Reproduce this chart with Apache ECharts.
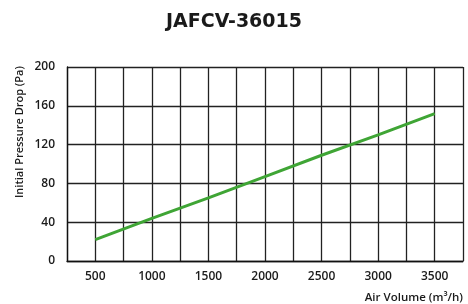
<!DOCTYPE html>
<html lang="en">
<head>
    <meta charset="UTF-8">
    <title>JAFCV-36015</title>
    <script src="https://cdn.jsdelivr.net/npm/echarts@6/dist/echarts.min.js"></script>
    <style>
        html, body { margin: 0; padding: 0; background: #fff; }
    </style>
</head>
<body>
<div id="main" style="width: 468px;height:304px;"></div>
<script>
    // air volume (m3/h) and initial pressure drop (Pa)
    var airVolume = [500, 1000, 1500, 2000, 2500, 3000, 3500];
    var pressureDrop = [22, 44, 65, 87, 109, 130, 152];
    var yTicks = [0, 40, 80, 120, 160, 200];

    var points = airVolume.map(function (v, i) {
        return [v, pressureDrop[i]];
    });

    var font = '"Open Sans", Lato, sans-serif';
    var myChart = echarts.init(document.getElementById('main'));

    var option = {
        animation: false,
        title: {
            text: 'JAFCV-36015',
            left: 'center',
            top: 8,
            textStyle: { fontFamily: '"DejaVu Sans", sans-serif', fontSize: 19, fontWeight: 'bold', color: '#1a1a1a' }
        },
        grid: { left: 67, right: 5, top: 67, bottom: 43, containLabel: false },
        xAxis: {
            type: 'value',
            min: 250,
            max: 3750,
            interval: 250,
            axisLine: { lineStyle: { color: '#111', width: 1.3 } },
            axisTick: { show: false },
            axisLabel: {
                margin: 10,
                color: '#1a1a1a',
                fontFamily: font,
                fontSize: 12,
                fontWeight: 600,
                formatter: function (v) {
                    return (v % 500 === 0) ? String(v) : '';
                }
            },
            splitLine: { show: true, lineStyle: { color: '#222', width: 1.3 } }
        },
        yAxis: {
            type: 'value',
            min: yTicks[0],
            max: yTicks[yTicks.length - 1],
            interval: 40,
            axisLine: { show: true, lineStyle: { color: '#111', width: 1.3 } },
            axisTick: { show: false },
            axisLabel: {
                margin: 12,
                color: '#1a1a1a',
                fontFamily: font,
                fontSize: 12,
                fontWeight: 600
            },
            splitLine: { show: true, lineStyle: { color: '#222', width: 1.3 } }
        },
        graphic: [
            {
                type: 'text',
                x: 20,
                y: 132,
                rotation: Math.PI / 2,
                style: {
                    text: 'Initial Pressure Drop (Pa)',
                    fontFamily: font,
                    fontSize: 11,
                    fontWeight: 600,
                    fill: '#1a1a1a',
                    align: 'center',
                    verticalAlign: 'middle'
                }
            },
            {
                type: 'text',
                x: 463,
                y: 298,
                style: {
                    text: 'Air Volume (m³/h)',
                    fontFamily: font,
                    fontSize: 11.5,
                    fontWeight: 600,
                    fill: '#1a1a1a',
                    align: 'right',
                    verticalAlign: 'middle'
                }
            }
        ],
        series: [{
            type: 'line',
            data: points,
            showSymbol: false,
            lineStyle: { color: '#3fa535', width: 3 }
        }]
    };

    myChart.setOption(option);
</script>
</body>
</html>
